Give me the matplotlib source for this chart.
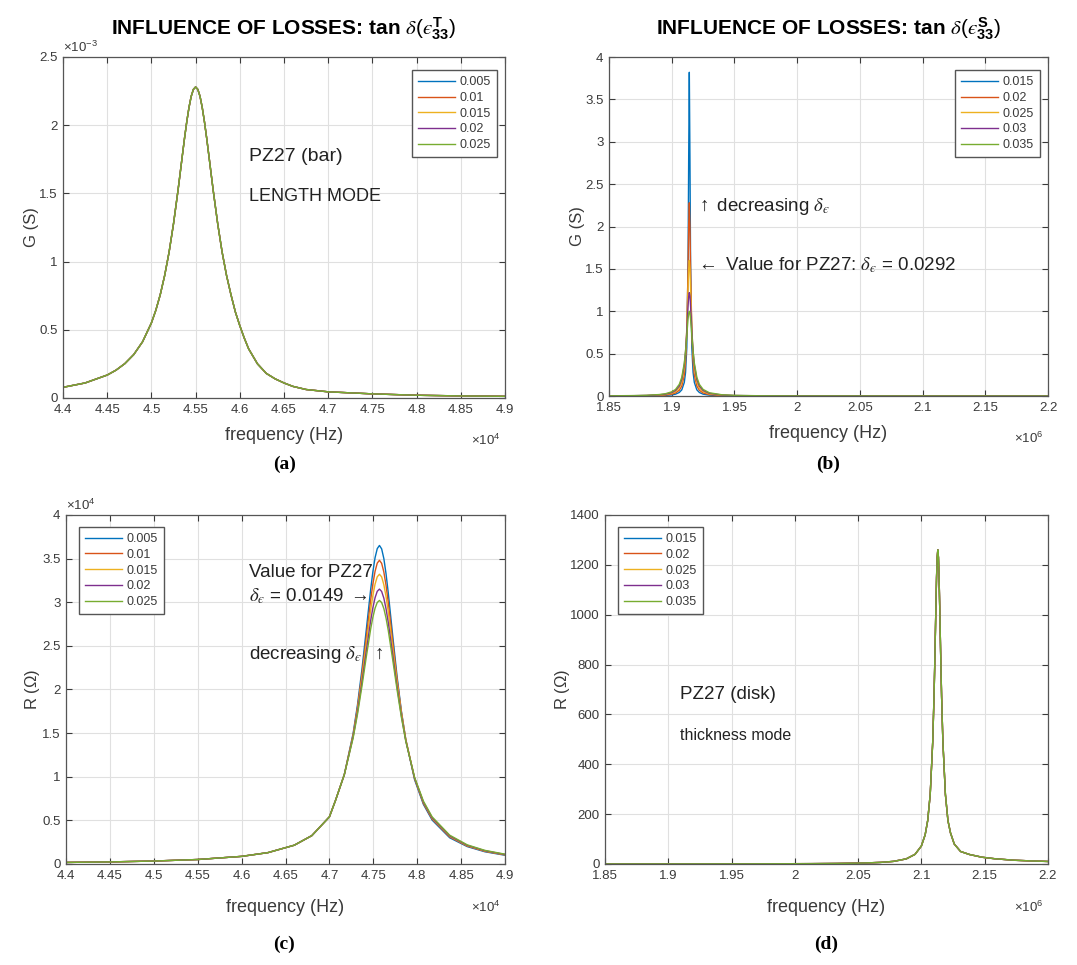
import numpy as np
import matplotlib
matplotlib.use('Agg')
from matplotlib import pyplot as plt
from matplotlib.ticker import FuncFormatter

plt.rcParams['font.family'] = ['Liberation Sans', 'DejaVu Sans']
plt.rcParams['mathtext.fontset'] = 'custom'
plt.rcParams['mathtext.rm'] = 'Liberation Sans'
plt.rcParams['mathtext.sf'] = 'Liberation Sans'
plt.rcParams['mathtext.it'] = 'STIXGeneral:italic'
plt.rcParams['mathtext.bf'] = 'Liberation Sans:bold'

colors = ['#0072BD', '#D95319', '#EDB120', '#7E2F8E', '#77AC30']

# ---- (a) conductance, bar, length mode (all five curves coincide) ----
labels_a = ['0.005', '0.01', '0.015', '0.02', '0.025']
freq_a = [44000, 44250, 44500, 44600, 44700, 44800, 44900, 45000,
          45050, 45100, 45150, 45200, 45250, 45300,
          45325, 45350, 45375, 45400, 45425, 45450, 45475, 45500,
          45525, 45550, 45575, 45600, 45625, 45650, 45675, 45700,
          45750, 45800, 45850, 45900, 45950, 46000, 46050, 46100,
          46200, 46300, 46400, 46500, 46600, 46750, 47000,
          47500, 48000, 48500, 49000]
g_a = [0.078, 0.110, 0.168, 0.204, 0.252, 0.318, 0.412, 0.550,
       0.643, 0.757, 0.898, 1.069, 1.277, 1.517,
       1.646, 1.777, 1.906, 2.025, 2.129, 2.211, 2.262, 2.28,
       2.262, 2.211, 2.129, 2.025, 1.906, 1.777, 1.646, 1.517,
       1.277, 1.069, 0.898, 0.757, 0.63, 0.53, 0.44, 0.36,
       0.25, 0.18, 0.14, 0.11, 0.085, 0.062, 0.045,
       0.03, 0.02, 0.015, 0.012]  # x 1e-3 S

# ---- (b) conductance, disk, thickness mode ----
labels_b = ['0.015', '0.02', '0.025', '0.03', '0.035']
freq_b = [1850000, 1870000, 1880000, 1890000, 1895000, 1900000, 1903000, 1906000,
          1908000, 1910000, 1911000, 1912000, 1913000, 1913500, 1914000, 1914500,
          1915000, 1916000, 1917000, 1918000, 1920000, 1922000, 1925000, 1930000,
          1940000, 1950000, 1970000, 2000000, 2100000, 2200000]
g_b_015 = [0.001, 0.0014, 0.0023, 0.0047, 0.0075, 0.0137, 0.022, 0.042, 0.073, 0.161,
           0.278, 0.573, 1.58, 2.82, 3.82, 2.82, 1.58, 0.573, 0.278, 0.161,
           0.073, 0.042, 0.022, 0.0105, 0.004, 0.0021, 0.0009, 0.0004, 0.0001, 0.0]
g_b_020 = [0.0011, 0.0023, 0.0039, 0.0077, 0.0123, 0.0226, 0.0364, 0.0677, 0.118, 0.249,
           0.408, 0.75, 1.51, 2.02, 2.28, 2.02, 1.51, 0.75, 0.408, 0.249,
           0.118, 0.0677, 0.0364, 0.0173, 0.0066, 0.0034, 0.0014, 0.0006, 0.0001, 0.0]
g_b_025 = [0.0016, 0.0033, 0.0055, 0.011, 0.0175, 0.032, 0.0512, 0.094, 0.16, 0.32,
           0.492, 0.8, 1.28, 1.506, 1.6, 1.506, 1.28, 0.8, 0.492, 0.32,
           0.16, 0.094, 0.0512, 0.0246, 0.0094, 0.0049, 0.002, 0.0009, 0.0002, 0.0001]
g_b_030 = [0.002, 0.0043, 0.0072, 0.0144, 0.0228, 0.0413, 0.0656, 0.118, 0.196, 0.366,
           0.528, 0.771, 1.065, 1.177, 1.22, 1.177, 1.065, 0.771, 0.528, 0.366,
           0.196, 0.118, 0.0656, 0.0319, 0.0123, 0.0064, 0.0027, 0.0011, 0.0002, 0.0001]
g_b_035 = [0.0025, 0.0053, 0.0088, 0.0175, 0.0276, 0.0497, 0.078, 0.138, 0.221, 0.39,
           0.532, 0.719, 0.911, 0.976, 1.0, 0.976, 0.911, 0.719, 0.532, 0.39,
           0.221, 0.138, 0.078, 0.0385, 0.0149, 0.0078, 0.0033, 0.0014, 0.0003, 0.0001]

# ---- (c) resistance, bar, length mode (x 1e4 ohm) ----
labels_c = ['0.005', '0.01', '0.015', '0.02', '0.025']
freq_c = [44000, 44500, 45000, 45500, 46000, 46300, 46600, 46800, 47000,
          47070, 47170, 47270, 47320, 47370, 47420, 47470, 47495, 47520, 47545,
          47570, 47595, 47620, 47645, 47670, 47720, 47770, 47820, 47870, 47970,
          48070, 48170, 48370, 48570, 48770, 49000]
r_c_005 = [0.0175, 0.0236, 0.0335, 0.051, 0.087, 0.130, 0.215, 0.325, 0.54,
           0.73, 1.025, 1.496, 1.825, 2.226, 2.684, 3.147, 3.349, 3.51, 3.614,
           3.65, 3.611, 3.50, 3.325, 3.11, 2.626, 2.155, 1.75, 1.424, 0.966,
           0.684, 0.503, 0.30, 0.199, 0.140, 0.10]
r_c_010 = [0.0175, 0.0236, 0.0335, 0.051, 0.087, 0.130, 0.215, 0.325, 0.54,
           0.73, 1.025, 1.48, 1.795, 2.174, 2.60, 3.026, 3.209, 3.354, 3.448,
           3.48, 3.445, 3.346, 3.193, 3.0, 2.559, 2.122, 1.74, 1.426, 0.978,
           0.696, 0.515, 0.31, 0.205, 0.145, 0.104]
r_c_015 = [0.0175, 0.0236, 0.0335, 0.051, 0.087, 0.130, 0.215, 0.325, 0.54,
           0.73, 1.025, 1.467, 1.769, 2.127, 2.524, 2.911, 3.077, 3.207, 3.291,
           3.32, 3.290, 3.20, 3.065, 2.892, 2.491, 2.086, 1.725, 1.424, 0.986,
           0.707, 0.525, 0.317, 0.210, 0.149, 0.107]
r_c_020 = [0.0175, 0.0236, 0.0335, 0.051, 0.087, 0.130, 0.215, 0.325, 0.54,
           0.73, 1.025, 1.455, 1.742, 2.076, 2.44, 2.789, 2.936, 3.051, 3.125,
           3.15, 3.123, 3.046, 2.924, 2.77, 2.407, 2.034, 1.696, 1.41, 0.986,
           0.711, 0.530, 0.322, 0.214, 0.152, 0.109]
r_c_025 = [0.0175, 0.0236, 0.0335, 0.051, 0.087, 0.130, 0.215, 0.325, 0.54,
           0.73, 1.025, 1.443, 1.717, 2.033, 2.372, 2.693, 2.827, 2.931, 2.997,
           3.02, 2.996, 2.927, 2.818, 2.678, 2.347, 2.0, 1.68, 1.406, 0.993,
           0.721, 0.54, 0.33, 0.219, 0.156, 0.112]

# ---- (d) resistance, disk, thickness mode (all five curves coincide) ----
labels_d = ['0.015', '0.02', '0.025', '0.03', '0.035']
freq_d = [1850000, 1913000, 1963000, 2013000, 2033000, 2053000, 2068000, 2078000,
          2088000, 2095000, 2100000, 2103000, 2105000, 2107000, 2109000, 2110000,
          2110500, 2111000, 2111500, 2112000, 2112500, 2113000, 2113500, 2114000,
          2114500, 2115000, 2115500, 2116000, 2117000, 2119000, 2121000, 2123000,
          2126000, 2131000, 2138000, 2148000, 2158000, 2173000, 2188000, 2200000]
r_d = [0.19, 0.32, 0.57, 1.29, 2.0, 3.57, 6.34, 10.4,
       20.3, 38.6, 72, 117, 174, 279, 492, 671,
       782, 906, 1033, 1148, 1230, 1260, 1230, 1148,
       1033, 906, 782, 671, 492, 279, 174, 125,
       80, 50, 38, 27, 21, 15, 12, 10]

xticks_bar = [44000, 44500, 45000, 45500, 46000, 46500, 47000, 47500, 48000, 48500, 49000]
xticks_disk = [1850000, 1900000, 1950000, 2000000, 2050000, 2100000, 2150000, 2200000]
yticks_a = [0, 0.0005, 0.001, 0.0015, 0.002, 0.0025]
yticks_b = [0, 0.5, 1, 1.5, 2, 2.5, 3, 3.5, 4]
yticks_c = [0, 5000, 10000, 15000, 20000, 25000, 30000, 35000, 40000]
yticks_d = [0, 200, 400, 600, 800, 1000, 1200, 1400]

fig = plt.figure(figsize=(10.77, 9.65), dpi=100)
ax_a = fig.add_axes([0.0585, 0.5876, 0.4104, 0.3534])
ax_b = fig.add_axes([0.5655, 0.5896, 0.4076, 0.3513])
ax_c = fig.add_axes([0.0613, 0.1047, 0.4076, 0.3617])
ax_d = fig.add_axes([0.5617, 0.1047, 0.4113, 0.3617])

tcol = '#3a3a3a'
eps = 'ϵ'  # lunate epsilon, as in the MATLAB labels
title_math = r'INFLUENCE OF LOSSES: tan $\delta(' + eps + r'^{\mathbf{%s}}_{\mathbf{33}})$'
d_eps = r'$\delta_{' + eps + '}$'


def style(ax, xt, yt, xs, ys, ylab, xlab_y):
    ax.set_xticks(xt)
    ax.set_yticks(yt)
    ax.set_xlim(xt[0], xt[-1])
    ax.set_ylim(yt[0], yt[-1])
    ax.xaxis.set_major_formatter(FuncFormatter(lambda v, p: f'{round(v / xs, 4):g}'))
    ax.yaxis.set_major_formatter(FuncFormatter(lambda v, p: f'{round(v / ys, 4):g}'))
    ax.tick_params(direction='in', top=True, right=True, length=4, width=0.8,
                   labelsize=9.5, colors=tcol, pad=4)
    ax.grid(True, color='#e0e0e0', linewidth=0.8)
    ax.set_axisbelow(True)
    for s in ax.spines.values():
        s.set_color('#555555')
        s.set_linewidth(0.9)
    ax.set_xlabel('frequency (Hz)', fontsize=13, color=tcol)
    ax.xaxis.set_label_coords(0.5, xlab_y)
    ax.set_ylabel(ylab, fontsize=12, color=tcol)


def legend(ax, labels, loc, anchor):
    lg = ax.legend(labels, loc=loc, bbox_to_anchor=anchor, borderaxespad=0,
                   fontsize=9, handlelength=2.9, handletextpad=0.4,
                   labelspacing=0.3, borderpad=0.5, fancybox=False, framealpha=1)
    lg.get_frame().set_edgecolor('#555555')
    lg.get_frame().set_linewidth(1.0)
    for t in lg.get_texts():
        t.set_color(tcol)


# (a)
for c in colors:
    ax_a.plot(freq_a, np.array(g_a) * 1e-3, color=c, lw=1.0)
style(ax_a, xticks_bar, yticks_a, 1e4, 1e-3, 'G (S)', -0.085)
ax_a.yaxis.set_label_coords(-0.055, 0.5)
ax_a.text(0.0, 1.005, r'×10$^{-3}$', transform=ax_a.transAxes, fontsize=9.5,
          color=tcol, va='bottom', ha='left')
ax_a.text(0.99, -0.125, r'×10$^{4}$', transform=ax_a.transAxes, fontsize=9.5,
          color=tcol, va='center', ha='right')
ax_a.set_title(title_math % 'T', fontsize=15, fontweight='bold', pad=16)
legend(ax_a, labels_a, 'upper right', (0.982, 0.962))
ax_a.text(46100, 1.77e-3, 'PZ27 (bar)', fontsize=14, va='center', color='#222222')
ax_a.text(46100, 1.48e-3, 'LENGTH MODE', fontsize=13, va='center', color='#222222')

# (b)
for c, g in zip(colors, [g_b_015, g_b_020, g_b_025, g_b_030, g_b_035]):
    ax_b.plot(freq_b, g, color=c, lw=1.0)
style(ax_b, xticks_disk, yticks_b, 1e6, 1, 'G (S)', -0.085)
ax_b.yaxis.set_label_coords(-0.054, 0.5)
ax_b.text(0.99, -0.125, r'×10$^{6}$', transform=ax_b.transAxes, fontsize=9.5,
          color=tcol, va='center', ha='right')
ax_b.set_title(title_math % 'S', fontsize=15, fontweight='bold', pad=16)
legend(ax_b, labels_b, 'upper right', (0.982, 0.962))
ax_b.text(1920000, 2.24, r'$\uparrow$ decreasing ' + d_eps, fontsize=13.5,
          va='center', color='#222222')
ax_b.text(1919500, 1.54, r'$\leftarrow$ Value for PZ27: ' + d_eps + ' = 0.0292',
          fontsize=13.5, va='center', color='#222222')

# (c)
for c, r in zip(colors, [r_c_005, r_c_010, r_c_015, r_c_020, r_c_025]):
    ax_c.plot(freq_c, np.array(r) * 1e4, color=c, lw=1.0)
style(ax_c, xticks_bar, yticks_c, 1e4, 1e4, r'R ($\Omega$)', -0.1)
ax_c.yaxis.set_label_coords(-0.055, 0.5)
ax_c.text(0.0, 1.005, r'×10$^{4}$', transform=ax_c.transAxes, fontsize=9.5,
          color=tcol, va='bottom', ha='left')
ax_c.text(0.99, -0.125, r'×10$^{4}$', transform=ax_c.transAxes, fontsize=9.5,
          color=tcol, va='center', ha='right')
legend(ax_c, labels_c, 'upper left', (0.03, 0.966))
ax_c.text(46080, 33400, 'Value for PZ27', fontsize=13.5, va='center', color='#222222')
ax_c.text(46080, 30700, d_eps + r' = 0.0149 $\rightarrow$', fontsize=13.5,
          va='center', color='#222222')
ax_c.text(46080, 24000, 'decreasing ' + d_eps + r'  $\uparrow$', fontsize=13.5,
          va='center', color='#222222')

# (d)
for c in colors:
    ax_d.plot(freq_d, r_d, color=c, lw=1.0)
style(ax_d, xticks_disk, yticks_d, 1e6, 1, r'R ($\Omega$)', -0.1)
ax_d.yaxis.set_label_coords(-0.075, 0.5)
ax_d.text(0.99, -0.125, r'×10$^{6}$', transform=ax_d.transAxes, fontsize=9.5,
          color=tcol, va='center', ha='right')
legend(ax_d, labels_d, 'upper left', (0.03, 0.966))
ax_d.text(1909000, 679, 'PZ27 (disk)', fontsize=13.5, va='center', color='#222222')
ax_d.text(1909000, 514, 'thickness mode', fontsize=11.5, va='center', color='#222222')

# panel letters
for x, y, s in [(0.264, 0.519, 'a'), (0.769, 0.519, 'b'), (0.264, 0.021, 'c'), (0.767, 0.021, 'd')]:
    fig.text(x, y, '(' + s + ')', fontsize=14, fontfamily='Liberation Serif',
             fontweight='bold', ha='center', va='center')

fig.savefig('out.png', dpi=100)
